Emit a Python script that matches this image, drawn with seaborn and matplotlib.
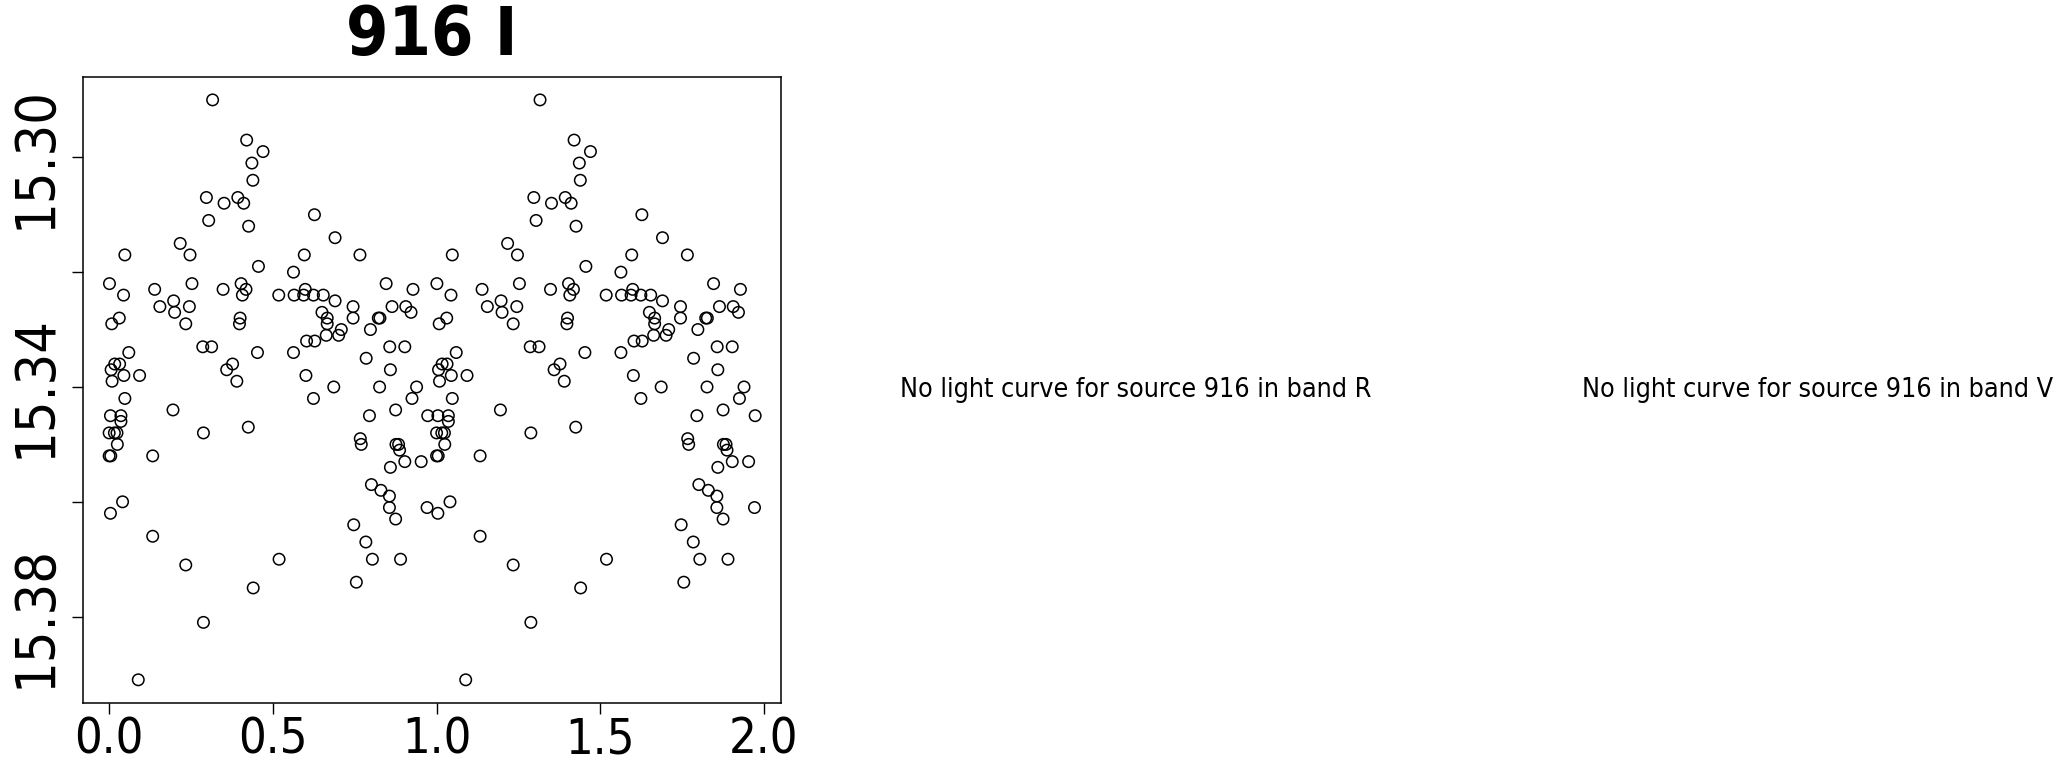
import matplotlib
matplotlib.use("Agg")
import matplotlib.pyplot as plt
import seaborn as sns
import pandas as pd
from matplotlib import font_manager as fm

# ---------------- data (phase, I-band magnitude) ----------------
phase = [
    0.316, 0.420, 0.470, 0.436, 0.439, 0.297, 0.351, 0.393, 0.411, 0.304,
    0.426, 0.217, 0.247, 0.048, 0.456, 0.001, 0.044, 0.139, 0.253, 0.348,
    0.403, 0.418, 0.407, 0.518, 0.197, 0.155, 0.245, 0.200, 0.031, 0.008,
    0.234, 0.400, 0.398, 0.286, 0.313, 0.060, 0.453, 0.017, 0.032, 0.006,
    0.045, 0.093, 0.009, 0.377, 0.359, 0.390,
    0.048, 0.195, 0.004, 0.036, 0.036, 0.000, 0.016, 0.024, 0.288, 0.425,
    0.025, 0.000, 0.005, 0.133, 0.041, 0.004, 0.133, 0.234, 0.519, 0.440,
    0.288, 0.089,
    0.627, 0.690, 0.596, 0.766, 0.563, 0.846, 0.565, 0.594, 0.599, 0.624,
    0.654, 0.690, 0.928, 0.650, 0.666, 0.666, 0.745, 0.745, 0.709, 0.663,
    0.701, 0.798, 0.822, 0.827, 0.864, 0.906, 0.922, 0.603, 0.628, 0.563,
    0.785, 0.857, 0.903, 0.601, 0.859, 0.686, 0.826, 0.939,
    0.624, 0.925, 0.875, 0.795, 0.973, 0.767, 0.770, 0.876, 0.884, 0.887,
    0.903, 0.953, 0.859, 0.801, 0.830, 0.856, 0.856, 0.875, 0.971, 0.747,
    0.784, 0.804, 0.890, 0.755,
]
mag = [
    15.290, 15.297, 15.299, 15.301, 15.304, 15.307, 15.308, 15.307, 15.308, 15.311,
    15.312, 15.315, 15.317, 15.317, 15.319, 15.322, 15.324, 15.323, 15.322, 15.323,
    15.322, 15.323, 15.324, 15.324, 15.325, 15.326, 15.326, 15.327, 15.328, 15.329,
    15.329, 15.328, 15.329, 15.333, 15.333, 15.334, 15.334, 15.336, 15.336, 15.337,
    15.338, 15.338, 15.339, 15.336, 15.337, 15.339,
    15.342, 15.344, 15.345, 15.345, 15.346, 15.348, 15.348, 15.348, 15.348, 15.347,
    15.350, 15.352, 15.352, 15.352, 15.360, 15.362, 15.366, 15.371, 15.370, 15.375,
    15.381, 15.391,
    15.310, 15.314, 15.317, 15.317, 15.320, 15.322, 15.324, 15.324, 15.323, 15.324,
    15.324, 15.325, 15.323, 15.327, 15.328, 15.329, 15.326, 15.328, 15.330, 15.331,
    15.331, 15.330, 15.328, 15.328, 15.326, 15.326, 15.327, 15.332, 15.332, 15.334,
    15.335, 15.333, 15.333, 15.338, 15.337, 15.340, 15.340, 15.340,
    15.342, 15.342, 15.344, 15.345, 15.345, 15.349, 15.350, 15.350, 15.350, 15.351,
    15.353, 15.353, 15.354, 15.357, 15.358, 15.359, 15.361, 15.363, 15.361, 15.364,
    15.367, 15.370, 15.370, 15.374,
]
source_id = "916"
band_plotted = "I"
missing_bands = ["R", "V"]
y_ticks = [15.30, 15.32, 15.34, 15.36, 15.38]
y_tick_labels = ["15.30", "", "15.34", "", "15.38"]
x_ticks = [0.0, 0.5, 1.0, 1.5, 2.0]
x_tick_labels = ["0.0", "0.5", "1.0", "1.5", "2.0"]

# two cycles of the phased light curve
df = pd.DataFrame({
    "phase": phase + [p + 1 for p in phase],
    "mag": mag + mag,
})

# ---------------- fonts / style ----------------
sns.set_style("white")
names = {f.name for f in fm.fontManager.ttflist}
family = "Liberation Sans"
stretch = "normal"
for cand in ["Liberation Sans Narrow", "Arial Narrow", "Nimbus Sans Narrow"]:
    if cand in names:
        family = cand
        break
else:
    if any(f.name == "DejaVu Sans" and "Condensed" in f.fname for f in fm.fontManager.ttflist):
        family = "DejaVu Sans"
        stretch = "condensed"
plt.rcParams["font.family"] = [family, "DejaVu Sans"]
plt.rcParams["font.stretch"] = stretch
plt.rcParams["text.color"] = "black"
plt.rcParams["xtick.color"] = "black"
plt.rcParams["ytick.color"] = "black"
plt.rcParams["axes.labelcolor"] = "black"

W, H, DPI = 2057, 761, 100
fig = plt.figure(figsize=(W / DPI, H / DPI), dpi=DPI)
fig.patch.set_facecolor("white")

left, right, top, bottom = 83.3, 781.0, 76.7, 703.0
ax = fig.add_axes([left / W, 1 - bottom / H, (right - left) / W, (bottom - top) / H])

sns.scatterplot(data=df, x="phase", y="mag", ax=ax, marker="o", s=68,
                facecolor="none", edgecolor="black", linewidth=1.1, legend=False)

xmin, xmax = df["phase"].min(), df["phase"].max()
xr = xmax - xmin
ax.set_xlim(xmin - 0.04 * xr, xmax + 0.04 * xr)
ymin, ymax = df["mag"].min(), df["mag"].max()
yr = ymax - ymin
ax.set_ylim(ymax + 0.04 * yr, ymin - 0.04 * yr)

ax.set_xticks(x_ticks)
ax.set_xticklabels(x_tick_labels)
ax.set_yticks(y_ticks)
ax.set_yticklabels(y_tick_labels, rotation=90, va="center")
ax.tick_params(axis="both", direction="out", length=8, width=1.0, color="black",
               labelcolor="black", left=True, bottom=True)
ax.tick_params(axis="x", pad=1, labelsize=35)
ax.tick_params(axis="y", pad=7, labelsize=40)
ax.set_xlabel("")
ax.set_ylabel("")
for sp in ax.spines.values():
    sp.set_visible(True)
    sp.set_color("black")
    sp.set_linewidth(1.1)

fig.text((left + right) / 2 / W, 1 - 36 / H, f"{source_id} {band_plotted}",
         ha="center", va="center", fontsize=49, fontweight="bold", color="black")

centers = [1136, 1818]
for b, cx in zip(missing_bands, centers):
    fig.text(cx / W, 1 - 390 / H, f"No light curve for source {source_id} in band {b}",
             ha="center", va="center", fontsize=19.3, color="black")

fig.savefig("out.png", dpi=DPI, facecolor="white")
